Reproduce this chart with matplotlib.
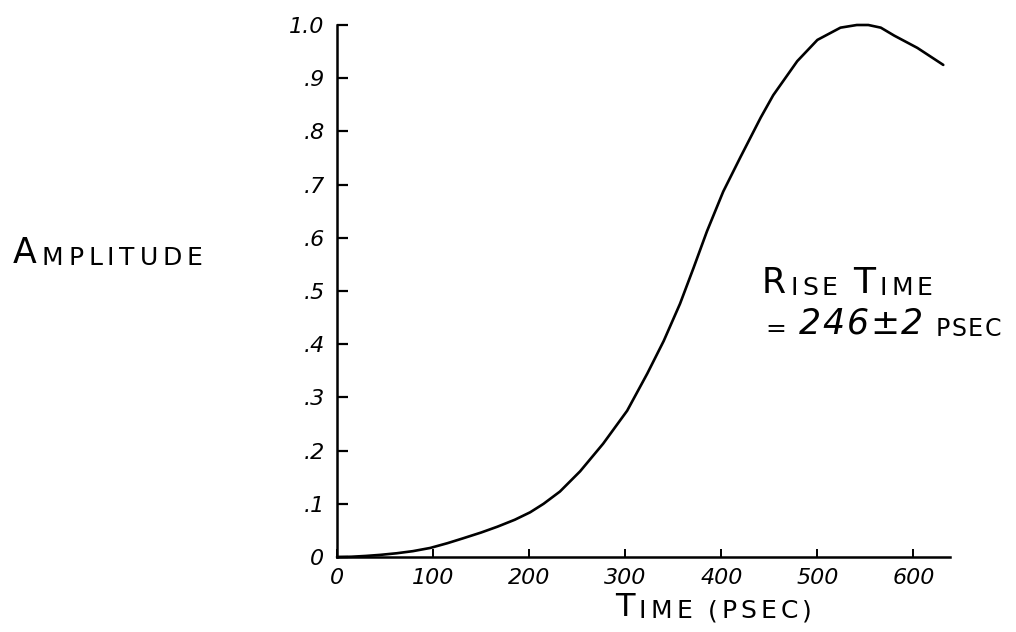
import matplotlib
matplotlib.use("Agg")
import matplotlib.pyplot as plt

# step response
time_ps = [0, 15, 30, 45, 62, 79, 97, 115, 131, 150, 167, 185, 201, 215, 232,
           253, 277, 302, 323, 340, 357, 371, 385, 402, 420, 441, 454, 479,
           500, 524, 541, 553, 566, 580, 604, 631]
amplitude = [0, 0.0005, 0.002, 0.004, 0.007, 0.011, 0.017, 0.026, 0.035, 0.046,
             0.057, 0.07, 0.084, 0.1, 0.123, 0.161, 0.213, 0.275, 0.345, 0.406,
             0.476, 0.543, 0.612, 0.687, 0.752, 0.826, 0.868, 0.932, 0.972,
             0.995, 1.0, 1.0, 0.995, 0.98, 0.957, 0.925]

x_ticks = [0, 100, 200, 300, 400, 500, 600]
x_ticklabels = ["0", "100", "200", "300", "400", "500", "600"]
y_ticks = [0, 0.1, 0.2, 0.3, 0.4, 0.5, 0.6, 0.7, 0.8, 0.9, 1.0]
y_ticklabels = ["0", ".1", ".2", ".3", ".4", ".5", ".6", ".7", ".8", ".9", "1.0"]

W, H = 1016, 632
fig = plt.figure(figsize=(W / 100, H / 100), dpi=100)
ax = fig.add_axes([337 / W, 1 - 557 / H, 613 / W, 532 / H])

ax.plot(time_ps, amplitude, color="black", lw=1.9, clip_on=False,
        solid_joinstyle="round", solid_capstyle="round")

ax.set_xlim(0, 638)
ax.set_ylim(0, 1.0)
for side in ["top", "right"]:
    ax.spines[side].set_visible(False)
for side in ["left", "bottom"]:
    ax.spines[side].set_linewidth(1.8)

ax.set_xticks(x_ticks)
ax.set_xticklabels(x_ticklabels, fontsize=16, style="italic")
ax.set_yticks(y_ticks)
ax.set_yticklabels(y_ticklabels, fontsize=16, style="italic")
ax.tick_params(axis="y", direction="in", length=8, width=1.6, pad=9)
ax.tick_params(axis="x", direction="in", length=6, width=1.4, pad=8)


def caps_label(x, y, parts, gap=2.5):
    """Draw (text, size, style) pieces letter by letter, loosely spaced."""
    prev = None
    space = 0
    for text, size, style in parts:
        for ch in text:
            if ch == " ":
                space += size * 0.45
                continue
            if prev is None:
                prev = fig.text(x / W, 1 - y / H, ch, fontsize=size, style=style,
                                va="bottom", ha="left")
            else:
                prev = ax.annotate(ch, xy=(1, 0), xycoords=prev,
                                   xytext=(gap + space, 0), textcoords="offset points",
                                   fontsize=size, style=style, va="bottom", ha="left")
            space = 0
    return prev


caps_label(13, 270, [("A", 25, "normal"), ("MPLITUDE", 18, "normal")], gap=3.5)
caps_label(615, 623, [("T", 23, "normal"), ("IME (PSEC)", 18, "normal")], gap=3)
caps_label(762, 300, [("R", 25, "normal"), ("ISE ", 18, "normal"),
                      ("T", 26, "normal"), ("IME", 18, "normal")], gap=3)
caps_label(765, 341, [("= ", 18, "normal"), ("246±2", 25, "italic"),
                      (" PSEC", 17, "normal")], gap=1.2)

fig.savefig("out.png", dpi=100)
